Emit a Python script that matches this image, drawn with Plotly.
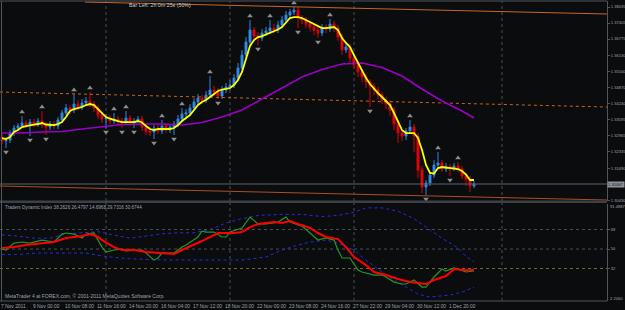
import plotly.graph_objects as go

W, H = 625, 310
BG = '#0b0c0e'
GRID = '#4a4f56'
TXT = '#9ea4aa'
FONT = 'Liberation Sans, Arial, sans-serif'
RFS = 4.1  # right scale font size

bars = list(range(119))

open_ = [1.32917,1.32760,1.32799,1.33075,1.33272,1.33350,1.33468,1.33390,1.33508,1.33429,
         1.33547,1.33390,1.33311,1.33429,1.33350,1.33587,1.33862,1.34059,1.33980,1.34217,
         1.34098,1.34256,1.34335,1.34217,1.34059,1.33783,1.33626,1.33665,1.33547,1.33626,
         1.33547,1.33508,1.33665,1.33468,1.33547,1.33626,1.33311,1.33154,1.33114,1.33272,
         1.33154,1.33350,1.33193,1.33311,1.33429,1.33626,1.33823,1.33862,1.34059,1.34295,
         1.34453,1.34374,1.34571,1.34768,1.34689,1.34531,1.34768,1.34886,1.34965,1.35240,
         1.35634,1.36146,1.36657,1.37130,1.36894,1.36815,1.37012,1.37091,1.37209,1.37130,
         1.37327,1.37524,1.37720,1.37839,1.37917,1.37602,1.37524,1.37366,1.37248,1.37130,
         1.37012,1.37248,1.37169,1.37366,1.37209,1.36854,1.36342,1.36461,1.36028,1.35752,
         1.35476,1.35280,1.35083,1.34925,1.34768,1.34571,1.34374,1.34217,1.33980,1.33429,
         1.33075,1.32957,1.33154,1.33311,1.32957,1.31618,1.30949,1.31106,1.31421,1.31815,
         1.31894,1.31657,1.31736,1.31697,1.31776,1.31657,1.31382,1.31264,1.30988]
close = [1.32760,1.32799,1.33075,1.33272,1.33350,1.33468,1.33390,1.33508,1.33429,1.33547,
         1.33390,1.33311,1.33429,1.33350,1.33587,1.33862,1.34059,1.33980,1.34217,1.34098,
         1.34256,1.34335,1.34217,1.34059,1.33783,1.33626,1.33665,1.33547,1.33626,1.33547,
         1.33508,1.33665,1.33468,1.33547,1.33626,1.33311,1.33154,1.33114,1.33272,1.33154,
         1.33350,1.33193,1.33311,1.33429,1.33626,1.33823,1.33862,1.34059,1.34295,1.34453,
         1.34374,1.34571,1.34768,1.34689,1.34531,1.34768,1.34886,1.34965,1.35240,1.35634,
         1.36146,1.36657,1.37130,1.36894,1.36815,1.37012,1.37091,1.37209,1.37130,1.37327,
         1.37524,1.37720,1.37839,1.37917,1.37602,1.37524,1.37366,1.37248,1.37130,1.37012,
         1.37248,1.37169,1.37366,1.37209,1.36854,1.36342,1.36461,1.36028,1.35752,1.35476,
         1.35280,1.35083,1.34925,1.34768,1.34571,1.34374,1.34217,1.33980,1.33429,1.33075,
         1.32957,1.33154,1.33311,1.32957,1.31618,1.30949,1.31106,1.31421,1.31815,1.31894,
         1.31657,1.31736,1.31697,1.31776,1.31657,1.31382,1.31264,1.30988,1.31067]
high = [1.33035,1.32917,1.33193,1.33390,1.33468,1.33744,1.33587,1.33626,1.33626,1.33665,
        1.33941,1.33508,1.33547,1.33547,1.33705,1.33980,1.34217,1.34177,1.34610,1.34374,
        1.34413,1.34492,1.34689,1.34335,1.34177,1.33902,1.33823,1.33783,1.33862,1.33744,
        1.33665,1.33941,1.33783,1.33665,1.33744,1.33744,1.33429,1.33311,1.33390,1.33390,
        1.33587,1.33468,1.33429,1.33547,1.33783,1.34059,1.34020,1.34217,1.34453,1.34610,
        1.34571,1.34728,1.35319,1.34925,1.34846,1.34925,1.35043,1.35161,1.35398,1.35831,
        1.36342,1.36854,1.37524,1.37248,1.37051,1.37169,1.37248,1.37524,1.37366,1.37484,
        1.37681,1.37878,1.37957,1.38035,1.38035,1.37720,1.37642,1.37484,1.37366,1.37248,
        1.37366,1.37366,1.37563,1.37484,1.37327,1.36972,1.36618,1.36579,1.36146,1.35870,
        1.35594,1.35398,1.35201,1.35043,1.34886,1.34689,1.34492,1.34374,1.34098,1.33547,
        1.33193,1.33272,1.33587,1.33429,1.33075,1.31776,1.31224,1.31539,1.32012,1.32327,
        1.32012,1.31894,1.31854,1.31894,1.31933,1.31776,1.31500,1.31382,1.31185]
low = [1.32642,1.32484,1.32681,1.32957,1.33154,1.33272,1.33272,1.32957,1.33311,1.33311,
       1.33272,1.32996,1.33193,1.33232,1.33232,1.33468,1.33783,1.33823,1.33862,1.33980,
       1.33980,1.34138,1.34098,1.33902,1.33626,1.33468,1.33272,1.33429,1.33429,1.33390,
       1.33272,1.33390,1.33350,1.33272,1.33468,1.33154,1.32996,1.32957,1.32839,1.33035,
       1.33035,1.33075,1.33075,1.32996,1.33311,1.33508,1.33705,1.33744,1.33941,1.34177,
       1.34217,1.34256,1.34453,1.34531,1.34413,1.34413,1.34650,1.34768,1.34846,1.35161,
       1.35555,1.36028,1.36539,1.36736,1.36539,1.36697,1.36894,1.36972,1.37012,1.37012,
       1.37209,1.37405,1.37602,1.37720,1.37209,1.37366,1.37209,1.37091,1.36933,1.36815,
       1.36894,1.37012,1.37051,1.37051,1.36697,1.36146,1.36224,1.35870,1.35594,1.35280,
       1.35083,1.34846,1.34098,1.34571,1.34413,1.34217,1.34020,1.33744,1.33193,1.32681,
       1.32760,1.32799,1.33035,1.32327,1.31303,1.30713,1.30634,1.30988,1.31303,1.31697,
       1.31539,1.31539,1.31382,1.31579,1.31539,1.31264,1.30988,1.30752,1.30909]

ma_fast = [1.32878,1.32838,1.32917,1.33114,1.33192,1.33311,1.33350,1.33389,1.33409,1.33429,
           1.33468,1.33409,1.33389,1.33389,1.33429,1.33507,1.33704,1.33941,1.34019,1.34059,
           1.34098,1.34177,1.34216,1.34177,1.34019,1.33822,1.33704,1.33645,1.33586,1.33547,
           1.33507,1.33507,1.33507,1.33507,1.33547,1.33488,1.33350,1.33232,1.33192,1.33232,
           1.33232,1.33232,1.33232,1.33271,1.33389,1.33547,1.33665,1.33783,1.33980,1.34177,
           1.34295,1.34374,1.34492,1.34610,1.34728,1.34787,1.34807,1.34846,1.34964,1.35161,
           1.35476,1.35988,1.36500,1.36736,1.36854,1.36893,1.36952,1.37011,1.37070,1.37149,
           1.37248,1.37444,1.37602,1.37641,1.37641,1.37602,1.37523,1.37444,1.37346,1.37267,
           1.37208,1.37208,1.37228,1.37248,1.37130,1.36815,1.36618,1.36460,1.36145,1.35830,
           1.35515,1.35240,1.35004,1.34807,1.34649,1.34492,1.34334,1.34177,1.33862,1.33507,
           1.33192,1.33074,1.33074,1.33074,1.32878,1.32405,1.31815,1.31500,1.31480,1.31696,
           1.31736,1.31716,1.31696,1.31677,1.31657,1.31578,1.31441,1.31224,1.31224]

slow_bars = [0,5,10,15,20,25,30,35,40,45,50,55,60,65,70,75,80,85,90,95,100,105,110,115,118]
ma_slow = [1.33075,1.33075,1.33114,1.33134,1.33232,1.33331,1.33409,1.33429,1.33429,1.33390,
           1.33487,1.33705,1.33980,1.34413,1.34846,1.35280,1.35575,1.35791,1.35831,1.35654,
           1.35319,1.34807,1.34335,1.33941,1.33665]

frac_up_bars = [5,10,18,22,28,31,40,45,52,62,67,73,82,102,109,114]
frac_up = [1.33902,1.34098,1.34768,1.34846,1.34020,1.34098,1.33744,1.34217,1.35476,1.37681,
           1.37681,1.38193,1.37720,1.33744,1.32484,1.32091]
frac_dn_bars = [1,7,11,26,30,33,38,43,54,64,74,79,92,106,112]
frac_dn = [1.32327,1.32799,1.32839,1.33114,1.33114,1.33114,1.32681,1.32839,1.34256,1.36382,
           1.37051,1.36658,1.33941,1.30476,1.31224]

# trend lines drawn on the chart (bar, price end points)
tl_top = ([20.75, 151.25], [1.38232, 1.37760])
tl_mid = ([-0.5, 151.25], [1.34689, 1.34098])
tl_low = ([-0.5, 151.25], [1.30988, 1.30437])

price_ticks = [1.38035,1.37405,1.36775,1.36130,1.35500,1.34870,1.34240,1.33595,1.32965,1.32335,1.31690,1.30430]
price_labels = ['1.38035','1.37405','1.36775','1.36130','1.35500','1.34870','1.34240','1.33595','1.32965','1.32335','1.31690','1.30430']

date_bars = [0,8,16,24,32,40,48,56,64,72,80,88,96,104,112]
date_labels = ['7 Nov 2011','9 Nov 00:00','10 Nov 08:00','11 Nov 16:00','14 Nov 20:00','16 Nov 04:00',
               '17 Nov 12:00','18 Nov 20:00','22 Nov 00:00','23 Nov 08:00','24 Nov 16:00','27 Nov 22:00',
               '29 Nov 04:00','30 Nov 12:00','1 Dec 20:00']
grid_bars = [26, 57, 88, 125]

# Traders Dynamic Index
rsi_bars = [0,1,3,5,7,10,13,15,16,18,20,21,23,25,26,28,30,31,35,36,38,39,40,43,45,46,49,50,51,53,
            55,56,57,59,60,62,64,66,69,71,72,75,77,79,81,83,84,85,87,89,90,93,95,96,98,100,101,103,
            105,106,108,110,111,113,114,116,118]
rsi_line = [50.0,49.1,55.5,56.5,55.5,58.3,56.5,63.8,64.8,63.8,60.2,63.8,64.8,51.8,47.2,49.1,50.0,48.2,
            49.1,46.3,39.8,41.7,46.3,46.3,51.8,53.7,61.1,66.6,65.7,65.7,61.1,61.1,65.7,68.5,69.4,79.5,
            73.1,73.1,74.9,79.5,74.9,71.2,64.8,58.3,60.2,58.3,49.1,41.7,41.7,30.6,28.8,26.0,26.0,24.2,
            19.5,17.7,17.7,21.4,14.9,14.9,24.2,31.5,29.7,32.5,31.5,28.8,29.73]
sig_bars = [0,3,6,10,13,16,20,22,24,25,28,30,33,36,40,43,45,48,50,54,58,60,62,64,68,70,72,74,77,79,
            81,84,86,88,91,93,96,99,102,106,108,111,113,116,118]
sig_line = [50.9,51.8,53.7,55.5,56.5,60.2,62.0,63.8,61.1,58.3,51.8,49.1,49.1,47.2,46.3,45.4,49.1,53.7,
            57.4,64.8,64.8,65.7,70.3,73.1,74.9,74.0,75.8,73.1,69.4,64.8,61.1,59.2,51.8,42.6,35.2,28.8,
            26.0,22.3,19.5,17.7,21.4,25.1,31.5,30.5,30.67]
up_bars = [0,4,8,12,16,20,24,28,32,36,40,44,48,52,56,60,64,70,75,80,84,88,91,95,99,103,106,110,112,114,116,118]
up_band = [63,62,60,60,64,65,66,63,60,62,64,65,65,68,74,78,81,82,82,80,81,84,88,88,85,78,70,60,55.5,51,43,38.26]
lo_bars = [0,4,9,15,21,26,32,38,45,50,55,60,66,70,74,77,81,84,88,91,95,98,101,104,107,112,115,118]
lo_band = [45,45,46.3,46.3,46.3,43,41,40,39.8,39.8,39.8,39.8,42.6,49.1,53.7,56.5,58.3,55.5,49.1,39.8,
           28.8,21.4,14.9,8.4,5.7,7.5,10.3,14.7]
tdi_levels = [68, 50, 32]
tdi_min, tdi_max = 2.2060, 91.4887

# ---------------- layout geometry (pixels -> paper)
def py(px):
    return 1 - px / H

XR = 607 / W
top_dom = [py(201), py(1)]
low_dom = [py(300.8), py(204.1)]

fig = go.Figure()

fig.add_trace(go.Scatter(x=tl_top[0], y=tl_top[1], mode='lines', line=dict(color='#c4682a', width=1),
                         hoverinfo='skip', xaxis='x', yaxis='y'))
fig.add_trace(go.Scatter(x=tl_mid[0], y=tl_mid[1], mode='lines', line=dict(color='#c8641e', width=1, dash='dot'),
                         hoverinfo='skip', xaxis='x', yaxis='y'))
fig.add_trace(go.Scatter(x=tl_low[0], y=tl_low[1], mode='lines', line=dict(color='#a8502a', width=1),
                         hoverinfo='skip', xaxis='x', yaxis='y'))

fig.add_trace(go.Scatter(x=[-0.5, 151.25], y=[close[-1], close[-1]], mode='lines',
                         line=dict(color='#5c6168', width=1), hoverinfo='skip', xaxis='x', yaxis='y'))

fig.add_trace(go.Scatter(x=slow_bars, y=ma_slow, mode='lines', line=dict(color='#9a00c8', width=1.6),
                         hoverinfo='skip', xaxis='x', yaxis='y'))

fig.add_trace(go.Candlestick(x=bars, open=open_, high=high, low=low, close=close,
                             increasing=dict(line=dict(color='#2b86dc', width=1), fillcolor='#3399ff'),
                             decreasing=dict(line=dict(color='#d80000', width=1), fillcolor='#ff0000'),
                             whiskerwidth=0, xaxis='x', yaxis='y', hoverinfo='skip'))

fig.add_trace(go.Scatter(x=bars, y=ma_fast, mode='lines', line=dict(color='#ffff00', width=1.8),
                         hoverinfo='skip', xaxis='x', yaxis='y'))

fig.add_trace(go.Scatter(x=frac_up_bars, y=frac_up, mode='markers',
                         marker=dict(symbol='triangle-up', size=5, color='#8c8c8c'),
                         hoverinfo='skip', xaxis='x', yaxis='y'))
fig.add_trace(go.Scatter(x=frac_dn_bars, y=frac_dn, mode='markers',
                         marker=dict(symbol='triangle-down', size=5, color='#8c8c8c'),
                         hoverinfo='skip', xaxis='x', yaxis='y'))

fig.add_trace(go.Scatter(x=up_bars, y=up_band, mode='lines', line=dict(color='#2a2ae0', width=1, dash='dot'),
                         hoverinfo='skip', xaxis='x2', yaxis='y2'))
fig.add_trace(go.Scatter(x=lo_bars, y=lo_band, mode='lines', line=dict(color='#2a2ae0', width=1, dash='dot'),
                         hoverinfo='skip', xaxis='x2', yaxis='y2'))
fig.add_trace(go.Scatter(x=rsi_bars, y=rsi_line, mode='lines', line=dict(color='#1f9a1f', width=1.2),
                         hoverinfo='skip', xaxis='x2', yaxis='y2'))
fig.add_trace(go.Scatter(x=sig_bars, y=sig_line, mode='lines', line=dict(color='#ff0000', width=2),
                         hoverinfo='skip', xaxis='x2', yaxis='y2'))

shapes = []
for gb in grid_bars:
    for d in (top_dom, [py(301), py(203)]):
        shapes.append(dict(type='line', xref='x', yref='paper', x0=gb, x1=gb, y0=d[0], y1=d[1],
                           line=dict(color=GRID, width=1, dash='dot'), layer='below'))
for lv in tdi_levels:
    shapes.append(dict(type='line', xref='paper', yref='y2', x0=0, x1=XR, y0=lv, y1=lv,
                       line=dict(color='#6e6a3c' if lv == 32 else GRID, width=1, dash='dot'), layer='below'))
shapes.append(dict(type='rect', xref='paper', yref='paper', x0=0, x1=XR, y0=py(203), y1=py(200.5),
                   fillcolor='#3c4047', line=dict(width=0)))
shapes.append(dict(type='line', xref='paper', yref='paper', x0=0, x1=XR, y0=py(1), y1=py(1),
                   line=dict(color='#50555c', width=1)))
shapes.append(dict(type='line', xref='paper', yref='paper', x0=1.5 / W, x1=1.5 / W, y0=py(301), y1=py(1),
                   line=dict(color='#50555c', width=1)))
shapes.append(dict(type='line', xref='paper', yref='paper', x0=0, x1=XR, y0=py(301), y1=py(301),
                   line=dict(color='#50555c', width=1)))

ann = []
for b, t in zip(date_bars, date_labels):
    ann.append(dict(x=b, xref='x', y=py(306), yref='paper', text=t, showarrow=False, xanchor='left',
                    yanchor='middle', xshift=-3, font=dict(size=4.9, color=TXT, family=FONT)))
ann.append(dict(x=127 / W, xref='paper', y=py(5), yref='paper', text='Bar Left: 2h 0m 25s (50%)',
                showarrow=False, xanchor='left', yanchor='middle', font=dict(size=5.3, color='#c8c8c8', family=FONT)))
ann.append(dict(x=3 / W, xref='paper', y=py(207), yref='paper',
                text='Traders Dynamic Index 38.2626 26.4797 14.6968 29.7316 30.6744',
                showarrow=False, xanchor='left', yanchor='middle', font=dict(size=4.6, color=TXT, family=FONT)))
ann.append(dict(x=3 / W, xref='paper', y=py(296), yref='paper',
                text='MetaTrader 4 at FOREX.com, © 2001-2011 MetaQuotes Software Corp.',
                showarrow=False, xanchor='left', yanchor='middle', font=dict(size=5, color=TXT, family=FONT)))
ann.append(dict(x=XR, xref='paper', y=close[-1], yref='y', text=f'{close[-1]:.5f}', showarrow=False,
                xanchor='left', yanchor='middle', xshift=0, bgcolor='#8e949b', borderpad=0,
                font=dict(size=RFS, color='#0b0c0e', family=FONT)))
ann.append(dict(x=XR, xref='paper', y=py(206), yref='paper', text=f'{tdi_max:.4f}', showarrow=False,
                xanchor='left', yanchor='middle', xshift=1, font=dict(size=RFS, color=TXT, family=FONT)))
ann.append(dict(x=XR, xref='paper', y=py(298), yref='paper', text=f'{tdi_min:.4f}', showarrow=False,
                xanchor='left', yanchor='middle', xshift=1, font=dict(size=RFS, color=TXT, family=FONT)))

fig.update_layout(
    width=W, height=H, margin=dict(l=0, r=0, t=0, b=0, autoexpand=False),
    paper_bgcolor=BG, plot_bgcolor=BG, showlegend=False,
    font=dict(family=FONT, size=RFS, color=TXT),
    xaxis=dict(domain=[0, XR], range=[-0.5, 151.25], showgrid=False, zeroline=False, showticklabels=False,
               rangeslider=dict(visible=False), fixedrange=True, anchor='y', automargin=False),
    xaxis2=dict(domain=[0, XR], range=[-0.5, 151.25], showgrid=False, zeroline=False, showticklabels=False,
                matches='x', anchor='y2', automargin=False),
    yaxis=dict(domain=top_dom, range=[1.30398, 1.38272], side='right', showgrid=False, zeroline=False,
               tickvals=price_ticks, ticktext=price_labels, ticks='outside', ticklen=2, tickcolor='#50555c',
               showline=True, linecolor='#50555c', linewidth=1, tickfont=dict(size=RFS, color=TXT),
               ticklabelstandoff=0, anchor='x', automargin=False),
    yaxis2=dict(domain=low_dom, range=[tdi_min, tdi_max], side='right', showgrid=False, zeroline=False,
                tickvals=tdi_levels, ticktext=[str(v) for v in tdi_levels], ticks='outside', ticklen=2,
                tickcolor='#50555c', showline=True, linecolor='#50555c', linewidth=1,
                tickfont=dict(size=RFS, color=TXT), ticklabelstandoff=0, anchor='x2', automargin=False),
    shapes=shapes, annotations=ann,
)

fig.write_html('out.html')
